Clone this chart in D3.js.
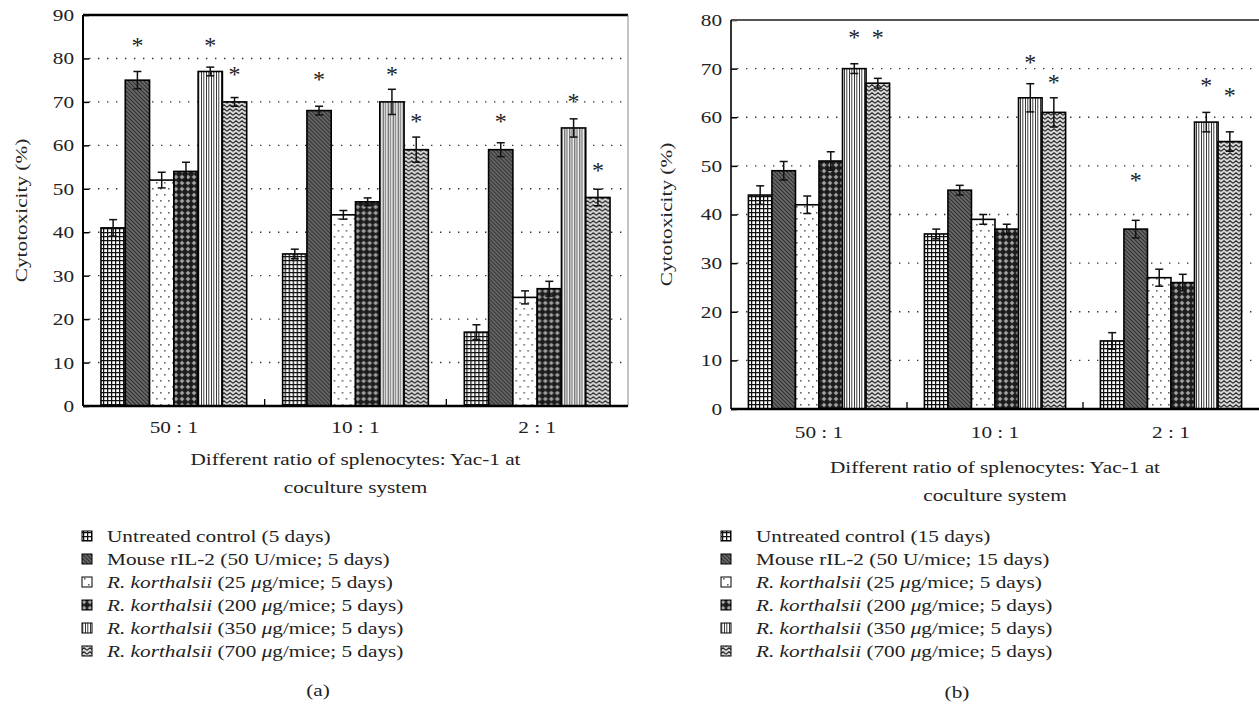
<!DOCTYPE html>
<html>
<head>
<meta charset="utf-8">
<script src="https://cdn.jsdelivr.net/npm/d3@7"></script>
<style>
  html, body { margin: 0; padding: 0; background: #fff; }
  svg { display: block; }
  text { font-family: "Liberation Serif", "Times New Roman", serif; fill: #222; }
</style>
</head>
<body>
<svg id="chart" width="1259" height="704"></svg>
<script>
// ---------------- DATA ----------------
const categories = ["50 : 1", "10 : 1", "2 : 1"];
const seriesKeys = ["ctrl", "il2", "rk25", "rk200", "rk350", "rk700"];

const legendA = [
  "Untreated control (5 days)",
  "Mouse rIL-2 (50 U/mice; 5 days)",
  "<i>R. korthalsii</i> (25 <i>μ</i>g/mice; 5 days)",
  "<i>R. korthalsii</i> (200 <i>μ</i>g/mice; 5 days)",
  "<i>R. korthalsii</i> (350 <i>μ</i>g/mice; 5 days)",
  "<i>R. korthalsii</i> (700 <i>μ</i>g/mice; 5 days)"
];
const legendB = [
  "Untreated control (15 days)",
  "Mouse rIL-2 (50 U/mice; 15 days)",
  "<i>R. korthalsii</i> (25 <i>μ</i>g/mice; 5 days)",
  "<i>R. korthalsii</i> (200 <i>μ</i>g/mice; 5 days)",
  "<i>R. korthalsii</i> (350 <i>μ</i>g/mice; 5 days)",
  "<i>R. korthalsii</i> (700 <i>μ</i>g/mice; 5 days)"
];

// Panel (a): means per category (rows) x series (cols)
const meansA = [
  [41, 75, 52, 54, 77, 70],
  [35, 68, 44, 47, 70, 59],
  [17, 59, 25, 27, 64, 48]
];
const errorsA = [
  [1.9, 2.0, 1.8, 2.1, 1.0, 1.0],
  [1.1, 1.0, 1.0, 0.9, 2.9, 2.9],
  [1.7, 1.6, 1.5, 1.7, 2.1, 1.9]
];
// asterisk heights (data units), null = no asterisk
const starsA = [
  [null, 83.8, null, null, 83.8, 77.0],
  [null, 76.0, null, null, 77.0, 66.2],
  [null, 66.2, null, null, 71.0, 55.0]
];
const ticksA = [0, 10, 20, 30, 40, 50, 60, 70, 80, 90];

// Panel (b)
const meansB = [
  [44, 49, 42, 51, 70, 67],
  [36, 45, 39, 37, 64, 61],
  [14, 37, 27, 26, 59, 55]
];
const errorsB = [
  [1.9, 1.9, 1.8, 1.9, 1.0, 1.0],
  [1.0, 1.0, 1.0, 1.0, 2.9, 3.0],
  [1.7, 1.8, 1.75, 1.7, 2.0, 2.0]
];
const starsB = [
  [null, null, null, null, 77.1, 77.1],
  [null, null, null, null, 71.9, 67.8],
  [null, 47.8, null, null, 67.3, 65.2]
];
const ticksB = [0, 10, 20, 30, 40, 50, 60, 70, 80];

const yTitle = "Cytotoxicity (%)";
const xTitle = ["Different ratio of splenocytes: Yac-1 at", "coculture system"];

// ---------------- PATTERNS ----------------
const svg = d3.select("#chart");
const defs = svg.append("defs");
const FS = 17, WIDEN = 1.25;

function pat(id, w, h, build) {
  const p = defs.append("pattern").attr("id", id)
    .attr("patternUnits", "userSpaceOnUse").attr("width", w).attr("height", h);
  build(p);
}
pat("p-ctrl", 4, 4, p => {
  p.append("rect").attr("width", 4).attr("height", 4).attr("fill", "#fff");
  p.append("path").attr("d", "M0 0.6H4 M0.6 0V4").attr("stroke", "#111").attr("stroke-width", 1.3);
});
pat("p-il2", 4, 4, p => {
  p.append("rect").attr("width", 4).attr("height", 4).attr("fill", "#6a6a6a");
  p.append("path").attr("d", "M0 0L4 4 M-1 3L1 5 M3 -1L5 1").attr("stroke", "#303030").attr("stroke-width", 1.2);
});
pat("p-rk25", 8, 12, p => {
  p.append("rect").attr("width", 8).attr("height", 12).attr("fill", "#fff");
  p.append("rect").attr("x", 1).attr("y", 2).attr("width", 1.6).attr("height", 1.6).attr("fill", "#666");
  p.append("rect").attr("x", 5).attr("y", 8).attr("width", 1.6).attr("height", 1.6).attr("fill", "#666");
});
pat("p-rk200", 6, 6, p => {
  p.append("rect").attr("width", 6).attr("height", 6).attr("fill", "#1c1c1c");
  p.append("path").attr("d", "M3 0.5L5.5 3L3 5.5L0.5 3Z").attr("fill", "#8a8a8a");
  p.append("rect").attr("x", 2.5).attr("y", 2.5).attr("width", 1).attr("height", 1).attr("fill", "#eee");
});
pat("p-rk350", 5, 4, p => {
  p.append("rect").attr("width", 5).attr("height", 4).attr("fill", "#fff");
  p.append("rect").attr("x", 0).attr("width", 1.4).attr("height", 4).attr("fill", "#777");
  p.append("rect").attr("x", 3).attr("width", 0.9).attr("height", 4).attr("fill", "#222");
});
pat("p-rk700", 6, 4, p => {
  p.append("rect").attr("width", 6).attr("height", 4).attr("fill", "#d8d8d8");
  p.append("path").attr("d", "M0 3.2L3 0.8L6 3.2").attr("fill", "none")
    .attr("stroke", "#2a2a2a").attr("stroke-width", 1.1);
});

// ---------------- HELPERS ----------------
function richText(sel, str) {
  const parts = str.split(/(<i>.*?<\/i>)/).filter(s => s.length);
  parts.forEach(s => {
    const it = s.startsWith("<i>");
    sel.append("tspan").attr("font-style", it ? "italic" : "normal")
      .text(it ? s.slice(3, -4) : s);
  });
}

function drawPanel(cfg) {
  const g = svg.append("g");
  const x0 = d3.scaleBand().domain(categories).range([cfg.left, cfg.right]).paddingInner(0).paddingOuter(0);
  const x1 = d3.scaleBand().domain(seriesKeys).range([0, x0.bandwidth()]).paddingInner(0).paddingOuter(0.74);
  const y = d3.scaleLinear().domain([0, cfg.ticks[cfg.ticks.length - 1]]).range([cfg.bottom, cfg.top]);

  // dotted gridlines
  g.append("g").selectAll("line")
    .data(cfg.ticks.slice(1, -1)).join("line")
    .attr("x1", cfg.left + 6).attr("x2", cfg.right)
    .attr("y1", d => y(d)).attr("y2", d => y(d))
    .attr("stroke", "#333").attr("stroke-width", 1.4)
    .attr("stroke-dasharray", "1.4,7.6");

  // bars
  const groups = g.append("g").selectAll("g")
    .data(categories).join("g")
    .attr("transform", d => `translate(${x0(d)},0)`);
  groups.each(function (cat, ci) {
    const gg = d3.select(this);
    const rows = seriesKeys.map((k, si) => ({ k, v: cfg.means[ci][si], e: cfg.errors[ci][si], s: cfg.stars[ci][si] }));
    gg.selectAll("rect").data(rows).join("rect")
      .attr("x", d => x1(d.k)).attr("width", x1.bandwidth())
      .attr("y", d => y(d.v)).attr("height", d => y(0) - y(d.v))
      .attr("fill", d => `url(#p-${d.k})`)
      .attr("stroke", "#000").attr("stroke-width", 1.6);
    const eb = gg.selectAll("g.err").data(rows).join("g").attr("class", "err");
    eb.append("line")
      .attr("x1", d => x1(d.k) + x1.bandwidth() / 2).attr("x2", d => x1(d.k) + x1.bandwidth() / 2)
      .attr("y1", d => y(d.v + d.e)).attr("y2", d => y(d.v - d.e))
      .attr("stroke", "#111").attr("stroke-width", 1.5);
    eb.selectAll("line.cap").data(d => [[d, d.v + d.e], [d, d.v - d.e]]).join("line").attr("class", "cap")
      .attr("x1", d => x1(d[0].k) + x1.bandwidth() / 2 - 4).attr("x2", d => x1(d[0].k) + x1.bandwidth() / 2 + 4)
      .attr("y1", d => y(d[1])).attr("y2", d => y(d[1]))
      .attr("stroke", "#111").attr("stroke-width", 1.5);
    gg.selectAll("text.star").data(rows.filter(d => d.s !== null)).join("text").attr("class", "star")
      .attr("x", d => x1(d.k) + x1.bandwidth() / 2)
      .attr("y", d => y(d.s) + 11)
      .attr("text-anchor", "middle").attr("font-size", 24).attr("fill", "#3a3a3a")
      .text("*");
  });

  // y axis (inward ticks)
  const ya = g.append("g").attr("transform", `translate(${cfg.left},0)`)
    .call(d3.axisLeft(y).tickValues(cfg.ticks).tickSizeInner(-6).tickSizeOuter(0).tickPadding(9));
  ya.select(".domain").remove();
  ya.selectAll(".tick line").attr("stroke", "#000").attr("stroke-width", 1.5);
  ya.selectAll(".tick text").attr("class", "w").attr("font-size", FS)
    .attr("font-family", "Liberation Serif").attr("fill", "#222");

  // x axis labels
  const xa = g.append("g").attr("transform", `translate(0,${cfg.bottom})`)
    .call(d3.axisBottom(x0).tickSize(0).tickPadding(cfg.xlabPad));
  xa.select(".domain").remove();
  xa.selectAll(".tick text").attr("class", "w").attr("font-size", FS)
    .attr("font-family", "Liberation Serif").attr("fill", "#222");

  // separators on x axis
  g.append("g").selectAll("line").data(categories.slice(1)).join("line")
    .attr("x1", d => x0(d)).attr("x2", d => x0(d))
    .attr("y1", cfg.bottom).attr("y2", cfg.bottom - 7)
    .attr("stroke", "#000").attr("stroke-width", 1.3);

  // frame
  g.append("line").attr("x1", cfg.left).attr("x2", cfg.right).attr("y1", cfg.top).attr("y2", cfg.top)
    .attr("stroke", cfg.topColor).attr("stroke-width", cfg.topWidth);
  if (cfg.rightBorder) {
    g.append("line").attr("x1", cfg.right).attr("x2", cfg.right).attr("y1", cfg.top).attr("y2", cfg.bottom)
      .attr("stroke", "#888").attr("stroke-width", 1);
  }
  g.append("line").attr("x1", cfg.left).attr("x2", cfg.left).attr("y1", cfg.top).attr("y2", cfg.bottom)
    .attr("stroke", "#000").attr("stroke-width", cfg.leftWidth);
  g.append("line").attr("x1", cfg.left).attr("x2", cfg.right).attr("y1", cfg.bottom).attr("y2", cfg.bottom)
    .attr("stroke", "#000").attr("stroke-width", 2.4);

  // titles
  g.append("text").attr("class", "w")
    .attr("transform", `translate(${cfg.yTitleX},${(cfg.top + cfg.bottom) / 2}) rotate(-90)`)
    .attr("text-anchor", "middle").attr("font-size", FS).text(yTitle);
  const cx = (cfg.left + cfg.right) / 2;
  g.append("text").attr("class", "w").attr("x", cx).attr("y", cfg.xTitleY)
    .attr("text-anchor", "middle").attr("font-size", FS).text(xTitle[0]);
  g.append("text").attr("class", "w").attr("x", cx).attr("y", cfg.xTitleY + 28)
    .attr("text-anchor", "middle").attr("font-size", FS).text(xTitle[1]);

  // legend
  const lg = g.append("g").attr("transform", `translate(${cfg.legX},${cfg.legY})`);
  const items = lg.selectAll("g").data(seriesKeys).join("g")
    .attr("transform", (d, i) => `translate(0,${i * cfg.legStep})`);
  items.append("rect").attr("x", -5).attr("y", -5).attr("width", 10).attr("height", 10)
    .attr("fill", d => `url(#p-${d})`).attr("stroke", "#000").attr("stroke-width", 1);
  items.append("text").attr("class", "w").attr("x", cfg.legTextDx).attr("y", 6).attr("font-size", FS)
    .each(function (d, i) { richText(d3.select(this), cfg.legend[i]); });

  // panel letter
  g.append("text").attr("class", "w").attr("x", cfg.letterX).attr("y", cfg.letterY).attr("text-anchor", "middle")
    .attr("font-size", FS).text(cfg.letter);
}

drawPanel({
  left: 83, right: 628, top: 15, bottom: 406, ticks: ticksA,
  means: meansA, errors: errorsA, stars: starsA, legend: legendA,
  topColor: "#000", topWidth: 2.4, leftWidth: 2, rightBorder: true,
  xlabPad: 15, yTitleX: 27, xTitleY: 465,
  legX: 87, legY: 536, legStep: 23, legTextDx: 20,
  letter: "(a)", letterX: 318, letterY: 696
});
drawPanel({
  left: 731, right: 1259, top: 20, bottom: 409, ticks: ticksB,
  means: meansB, errors: errorsB, stars: starsB, legend: legendB,
  topColor: "#555", topWidth: 2.2, leftWidth: 1.6, rightBorder: false,
  xlabPad: 17, yTitleX: 672, xTitleY: 473,
  legX: 726, legY: 536, legStep: 23, legTextDx: 30,
  letter: "(b)", letterX: 957, letterY: 698
});

// widen text glyphs to match the reference's broader typeface
svg.selectAll("text.w").each(function () {
  const len = this.getComputedTextLength();
  d3.select(this).attr("textLength", len * WIDEN).attr("lengthAdjust", "spacingAndGlyphs");
});
</script>
</body>
</html>
